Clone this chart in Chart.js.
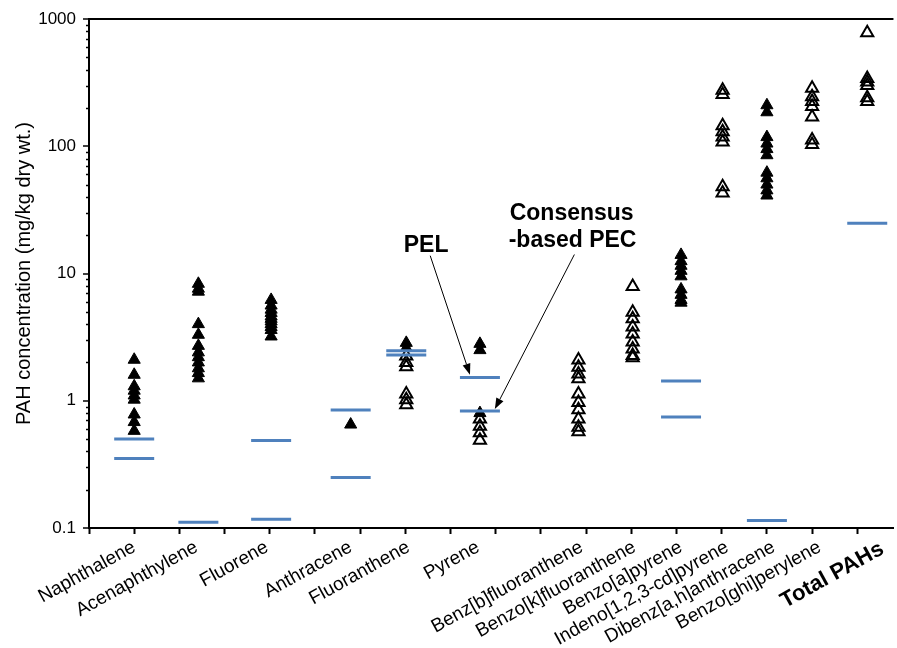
<!DOCTYPE html>
<html>
<head>
<meta charset="utf-8">
<script src="https://cdn.jsdelivr.net/npm/chart.js@4/dist/chart.umd.min.js"></script>
<style>
  html, body { margin: 0; padding: 0; background: #fff; }
  #wrap { width: 897px; height: 648px; }
</style>
</head>
<body>
<div id="wrap"><canvas id="chart" width="897" height="648"></canvas></div>
<script>
// Compounds along the x axis and where each column sits
const categories = [
  "Naphthalene", "Acenaphthylene", "Fluorene", "Anthracene", "Fluoranthene",
  "Pyrene", "Benz[b]fluoranthene", "Benzo[k]fluoranthene", "Benzo[a]pyrene",
  "Indeno[1,2,3-cd]pyrene", "Dibenz[a,h]anthracene", "Benzo[ghi]perylene", "Total PAHs"
];
const xPositions = [1, 2.42, 4.03, 5.79, 7.02, 8.65, 10.83, 12.03, 13.1, 14.02, 15.0, 16.0, 17.22];
// where each category label ends (labels sit slightly off their columns)
const labelPositions = [1.0, 2.38, 3.94, 5.79, 7.07, 8.61, 10.9, 12.07, 13.1, 14.12, 15.15, 16.17, 17.55];

// Concentrations, mg/kg dry wt. (filled triangles)
const filledValues = [
  [2.1, 1.6, 1.3, 1.2, 1.1, 1.02, 0.78, 0.68, 0.58],
  [8.3, 7.6, 7.2, 4.0, 3.3, 2.7, 2.4, 2.2, 2.0, 1.8, 1.65, 1.5],
  [6.2, 5.6, 5.2, 4.9, 4.6, 4.4, 4.2, 4.0, 3.8, 3.6, 3.2],
  [0.65],
  [2.85, 2.6],
  [2.8, 2.5, 0.8],
  [],
  [],
  [14, 12.5, 11.5, 10.5, 9.5, 7.5, 6.8, 6.2, 5.9],
  [],
  [210, 185, 118, 105, 95, 85, 62, 56, 50, 45, 41],
  [],
  []
];

// Concentrations, mg/kg dry wt. (open triangles)
const openValues = [
  [],
  [],
  [],
  [],
  [2.25, 2.0, 1.85, 1.13, 1.02, 0.93],
  [0.72, 0.63, 0.56, 0.49],
  [2.09, 1.83, 1.62, 1.49, 1.13, 0.97, 0.85, 0.72, 0.62, 0.57],
  [7.9, 4.96, 4.4, 3.8, 3.35, 2.9, 2.55, 2.27, 2.18],
  [],
  [275, 255, 145, 130, 118, 108, 48, 43],
  [],
  [285, 245, 225, 205, 170, 112, 103],
  [780, 340, 320, 300, 240, 225]
];

// Guideline levels (blue bars): upper and lower
const upperGuide = [0.5, null, 0.488, 0.845, 2.47, 1.52, null, null, 1.43, null, 0.1145, null, 24.8];
const lowerGuide = [0.352, 0.111, 0.117, 0.249, 2.29, 0.83, null, null, 0.744, null, null, null, null];

// y axis range
const yMin = 0.1;
const yMax = 1000;

const FONT = "'Liberation Sans', Arial, Helvetica, sans-serif";
Chart.defaults.font.family = FONT;
Chart.defaults.color = "#000";

function toPoints(lists) {
  const pts = [];
  lists.forEach((vals, i) => {
    vals.forEach((v) => pts.push({ x: xPositions[i], y: v }));
  });
  return pts;
}

function guidePoints(vals) {
  const pts = [];
  vals.forEach((v, i) => {
    if (v !== null) pts.push({ x: xPositions[i], y: v });
  });
  return pts;
}

function isDecade(v) {
  const l = Math.log10(v);
  return Math.abs(l - Math.round(l)) < 1e-9;
}

// Annotation text and arrows, placed in data units
const noteTexts = [
  { text: "PEL", x: 7.46, y: 14.8 },
  { text: "Consensus", x: 10.68, y: 26.3 },
  { text: "-based PEC", x: 10.70, y: 16.2 }
];
const noteArrows = [
  { from: [7.55, 13.8], to: [8.43, 1.6] },
  { from: [10.74, 14.1], to: [8.98, 0.86] }
];

const extrasPlugin = {
  id: "extras",
  afterDraw(chart) {
    const { ctx, chartArea } = chart;
    const xs = chart.scales.x;
    const ys = chart.scales.y;
    ctx.save();

    // minor ticks on the log axis
    ctx.strokeStyle = "#000";
    ctx.lineWidth = 1.5;
    ys.ticks.forEach((t) => {
      if (isDecade(t.value)) return;
      const py = Math.round(ys.getPixelForValue(t.value)) + 0.5;
      ctx.beginPath();
      ctx.moveTo(chartArea.left - 3, py);
      ctx.lineTo(chartArea.left, py);
      ctx.stroke();
    });

    // labels
    ctx.fillStyle = "#000";
    ctx.font = "bold 23px " + FONT;
    ctx.textAlign = "center";
    ctx.textBaseline = "alphabetic";
    noteTexts.forEach((n) => {
      ctx.fillText(n.text, xs.getPixelForValue(n.x), ys.getPixelForValue(n.y));
    });

    // arrows
    ctx.lineWidth = 1;
    noteArrows.forEach((a) => {
      const x1 = xs.getPixelForValue(a.from[0]);
      const y1 = ys.getPixelForValue(a.from[1]);
      const x2 = xs.getPixelForValue(a.to[0]);
      const y2 = ys.getPixelForValue(a.to[1]);
      const ang = Math.atan2(y2 - y1, x2 - x1);
      const len = 11;
      const half = 4;
      const bx = x2 - len * Math.cos(ang);
      const by = y2 - len * Math.sin(ang);
      ctx.beginPath();
      ctx.moveTo(x1, y1);
      ctx.lineTo(bx, by);
      ctx.stroke();
      ctx.beginPath();
      ctx.moveTo(x2, y2);
      ctx.lineTo(bx + half * Math.sin(ang), by - half * Math.cos(ang));
      ctx.lineTo(bx - half * Math.sin(ang), by + half * Math.cos(ang));
      ctx.closePath();
      ctx.fill();
    });

    ctx.restore();
  }
};

const ctx = document.getElementById("chart").getContext("2d");
new Chart(ctx, {
  type: "scatter",
  data: {
    datasets: [
      {
        label: "upper guide",
        data: guidePoints(upperGuide),
        pointStyle: "line",
        pointRadius: 20,
        borderColor: "#4f81bd",
        borderWidth: 3,
        order: 0
      },
      {
        label: "lower guide",
        data: guidePoints(lowerGuide),
        pointStyle: "line",
        pointRadius: 20,
        borderColor: "#4f81bd",
        borderWidth: 3,
        order: 0
      },
      {
        label: "filled",
        data: toPoints(filledValues),
        pointStyle: "triangle",
        pointRadius: 7,
        backgroundColor: "#000",
        borderColor: "#000",
        borderWidth: 1,
        order: 1
      },
      {
        label: "open",
        data: toPoints(openValues),
        pointStyle: "triangle",
        pointRadius: 7,
        backgroundColor: "rgba(0,0,0,0)",
        borderColor: "#000",
        borderWidth: 2,
        order: 1
      }
    ]
  },
  options: {
    responsive: false,
    animation: false,
    devicePixelRatio: 1,
    layout: { autoPadding: false, padding: { top: 19, right: 0, bottom: 0, left: 0 } },
    plugins: {
      legend: { display: false },
      tooltip: { enabled: false }
    },
    scales: {
      x: {
        type: "linear",
        position: "bottom",
        weight: 0,
        min: 0,
        max: 17.8,
        afterBuildTicks: (scale) => {
          const t = [];
          for (let i = 0; i <= 17; i++) t.push({ value: i });
          scale.ticks = t;
        },
        afterFit: (scale) => { scale.height = 6; },
        ticks: { display: false },
        grid: {
          drawOnChartArea: false,
          tickLength: 6,
          tickColor: "#000",
          tickWidth: 2
        },
        border: { color: "#000", width: 2 }
      },
      xLabels: {
        type: "linear",
        position: "bottom",
        weight: 1,
        min: 0,
        max: 17.8,
        afterBuildTicks: (scale) => {
          scale.ticks = labelPositions.map((v) => ({ value: v }));
        },
        afterFit: (scale) => { scale.height = 114; },
        ticks: {
          autoSkip: false,
          minRotation: 29,
          maxRotation: 29,
          padding: 2,
          color: "#000",
          font: (c) => c.index === categories.length - 1
            ? { size: 22, weight: "bold" }
            : { size: 19 },
          callback: (value, index) => categories[index]
        },
        grid: { display: false, drawTicks: false },
        border: { display: false }
      },
      y: {
        type: "logarithmic",
        min: yMin,
        max: yMax,
        afterBuildTicks: (scale) => {
          const t = [];
          for (let e = -1; e < 3; e++) {
            for (let m = 1; m <= 9; m++) {
              t.push({ value: Number((m * Math.pow(10, e)).toPrecision(6)) });
            }
          }
          t.push({ value: yMax });
          scale.ticks = t;
        },
        afterFit: (scale) => { scale.width = 89; },
        title: {
          display: true,
          text: "PAH concentration (mg/kg dry wt.)",
          font: { size: 20 },
          color: "#000",
          padding: { top: 12, bottom: 0 }
        },
        ticks: {
          autoSkip: false,
          padding: 7,
          color: "#000",
          font: { size: 17 },
          callback: (value) => (isDecade(value) ? String(value) : "")
        },
        grid: {
          drawOnChartArea: true,
          color: (c) => (c.tick && c.tick.value === yMax ? "#000" : "rgba(0,0,0,0)"),
          lineWidth: (c) => (c.tick && c.tick.value === yMax ? 2 : 0),
          tickLength: 6,
          tickWidth: 1.5,
          tickColor: (c) => (c.tick && isDecade(c.tick.value) ? "#000" : "rgba(0,0,0,0)")
        },
        border: { color: "#000", width: 2 }
      }
    }
  },
  plugins: [extrasPlugin]
});
</script>
</body>
</html>
